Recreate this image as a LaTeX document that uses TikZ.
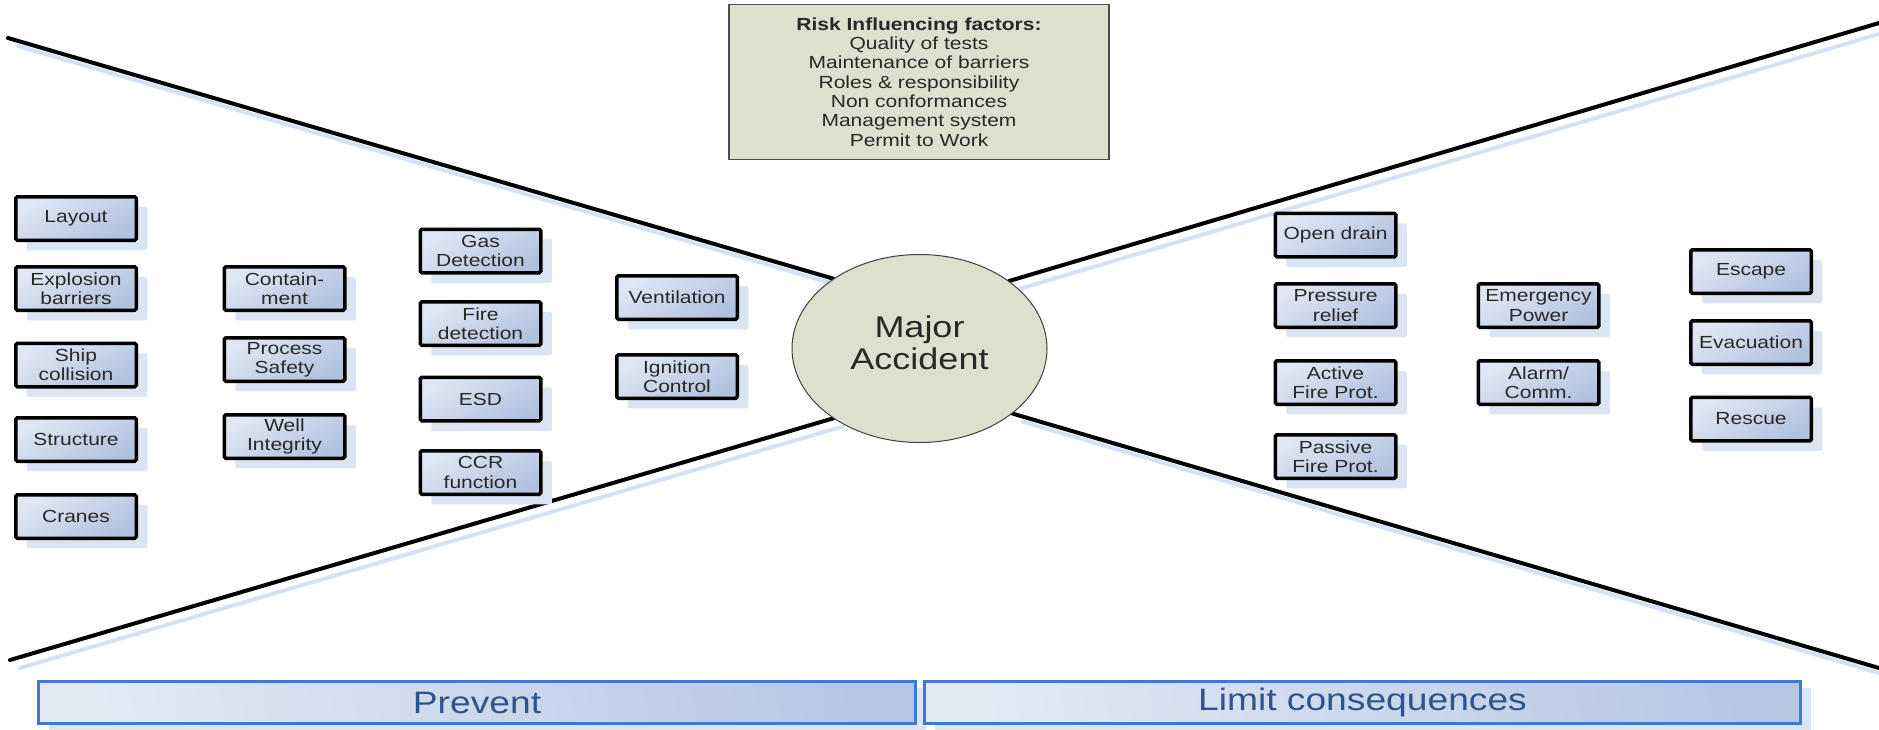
\documentclass[tikz,border=0pt]{standalone}
\usepackage{fontspec}
\newfontfamily\diagfont[FakeStretch=1.2]{Liberation Sans}
\usetikzlibrary{shapes.geometric,shadows,backgrounds}

\definecolor{boxlight}{RGB}{224,231,244}
\definecolor{boxdark}{RGB}{176,194,222}
\definecolor{boxshade}{RGB}{219,228,243}
\definecolor{riskfill}{RGB}{221,224,204}
\definecolor{phaselight}{RGB}{226,233,245}
\definecolor{phasedark}{RGB}{182,199,226}
\definecolor{phaseedge}{RGB}{58,122,212}
\definecolor{phasetext}{RGB}{47,84,140}
\definecolor{crossshade}{RGB}{213,224,243}
\definecolor{boxtext}{RGB}{40,40,40}

\tikzset{
  barrier/.style={draw=black, line width=3.5pt, rounded corners=1.5pt,
    top color=boxlight, bottom color=boxdark, shading angle=30,
    minimum width=120.5pt, minimum height=43.5pt, inner sep=1pt,
    align=center, text=boxtext, font=\diagfont\fontsize{17.5}{19.3}\selectfont,
    drop shadow={shadow xshift=11pt, shadow yshift=-10pt, fill=boxshade, opacity=1}},
  riskbox/.style={draw=black!70, line width=1.5pt, fill=riskfill,
    minimum width=380pt, minimum height=155pt, align=center, text=boxtext,
    font=\diagfont\fontsize{17.5}{19.3}\selectfont},
  accident/.style={ellipse, draw=black!75, line width=1pt, fill=riskfill,
    minimum width=255pt, minimum height=188pt, inner sep=0pt},
  accidenttext/.style={align=center, inner sep=0pt, text=boxtext,
    font=\diagfont\fontsize{30}{32}\selectfont},
  phase/.style={draw=phaseedge, line width=3pt, left color=phaselight,
    right color=phasedark, shading angle=100, minimum height=42pt,
    text=phasetext, font=\diagfont\fontsize{31}{33}\selectfont,
    drop shadow={shadow xshift=10pt, shadow yshift=-6pt, fill=boxshade, opacity=1}},
  cross/.style={line width=4pt, line cap=round},
  crossshadow/.style={line width=4pt, draw=crossshade, line cap=round,
    transform canvas={shift={(10pt,-8pt)}}}
}

\begin{document}
\begin{tikzpicture}[x=1pt,y=-1pt]
  \useasboundingbox (0,0) rectangle (1879,729);
  \node[accident] (acc) at (919.5,348.5) {};
  \node[accidenttext] (acctext) at ([yshift=6pt]acc.center) {Major\\Accident};
  \coordinate (ul) at (8,38);
  \coordinate (ll) at (10,660);
  \coordinate (ur) at (1879,23);
  \coordinate (lr) at (1879,668);
% bow tie
  \begin{scope}[on background layer]
    \draw[crossshadow] (ul) -- (acc.141);
    \draw[crossshadow] (ll) -- (acc.219);
    \draw[crossshadow] (ur) -- (acc.37);
    \draw[crossshadow] (lr) -- (acc.-35);
    \draw[cross] (ul) -- (acc.141);
    \draw[cross] (ll) -- (acc.219);
    \draw[cross] (ur) -- (acc.37);
    \draw[cross] (lr) -- (acc.-35);
  \end{scope}
  \node[riskbox] (risk) at (919,82) {{\bfseries Risk Influencing factors:}\\Quality of tests\\Maintenance of barriers\\Roles \& responsibility\\Non conformances\\Management system\\Permit to Work};
% preventive barriers
  \node[barrier] (layout) at (76,218.5) {Layout};
  \node[barrier] (explosion) at (76,288.5) {Explosion\\barriers};
  \node[barrier] (ship) at (76,365) {Ship\\collision};
  \node[barrier] (structure) at (76,439.5) {Structure};
  \node[barrier] (cranes) at (76,516.5) {Cranes};
  \node[barrier] (contain) at (284.5,288.5) {Contain-\\ment};
  \node[barrier] (process) at (284.5,359.5) {Process\\Safety};
  \node[barrier] (well) at (284.5,436.5) {Well\\Integrity};
  \node[barrier] (gas) at (480.5,251) {Gas\\Detection};
  \node[barrier] (fire) at (480.5,323.5) {Fire\\detection};
  \node[barrier] (esd) at (480.5,399) {ESD};
  \node[barrier] (ccr) at (480.5,472.5) {CCR\\function};
  \node[barrier] (vent) at (677,297.5) {Ventilation};
  \node[barrier] (ignition) at (677,376.5) {Ignition\\Control};
% mitigating barriers
  \node[barrier] (drain) at (1335.5,235) {Open drain};
  \node[barrier] (pressure) at (1335.5,305.5) {Pressure\\relief};
  \node[barrier] (active) at (1335.5,382.5) {Active\\Fire Prot.};
  \node[barrier] (passive) at (1335.5,456.5) {Passive\\Fire Prot.};
  \node[barrier] (power) at (1538.5,305.5) {Emergency\\Power};
  \node[barrier] (alarm) at (1538.5,382.5) {Alarm/\\Comm.};
  \node[barrier] (escape) at (1751,271.5) {Escape};
  \node[barrier] (evac) at (1751,342.5) {Evacuation};
  \node[barrier] (rescue) at (1751,419) {Rescue};
% phases
  \node[phase, minimum width=877pt] (prevent) at (477,702.5) {Prevent};
  \node[phase, minimum width=876pt] (limit) at (1362.5,702.5) {Limit consequences};
\end{tikzpicture}
\end{document}
